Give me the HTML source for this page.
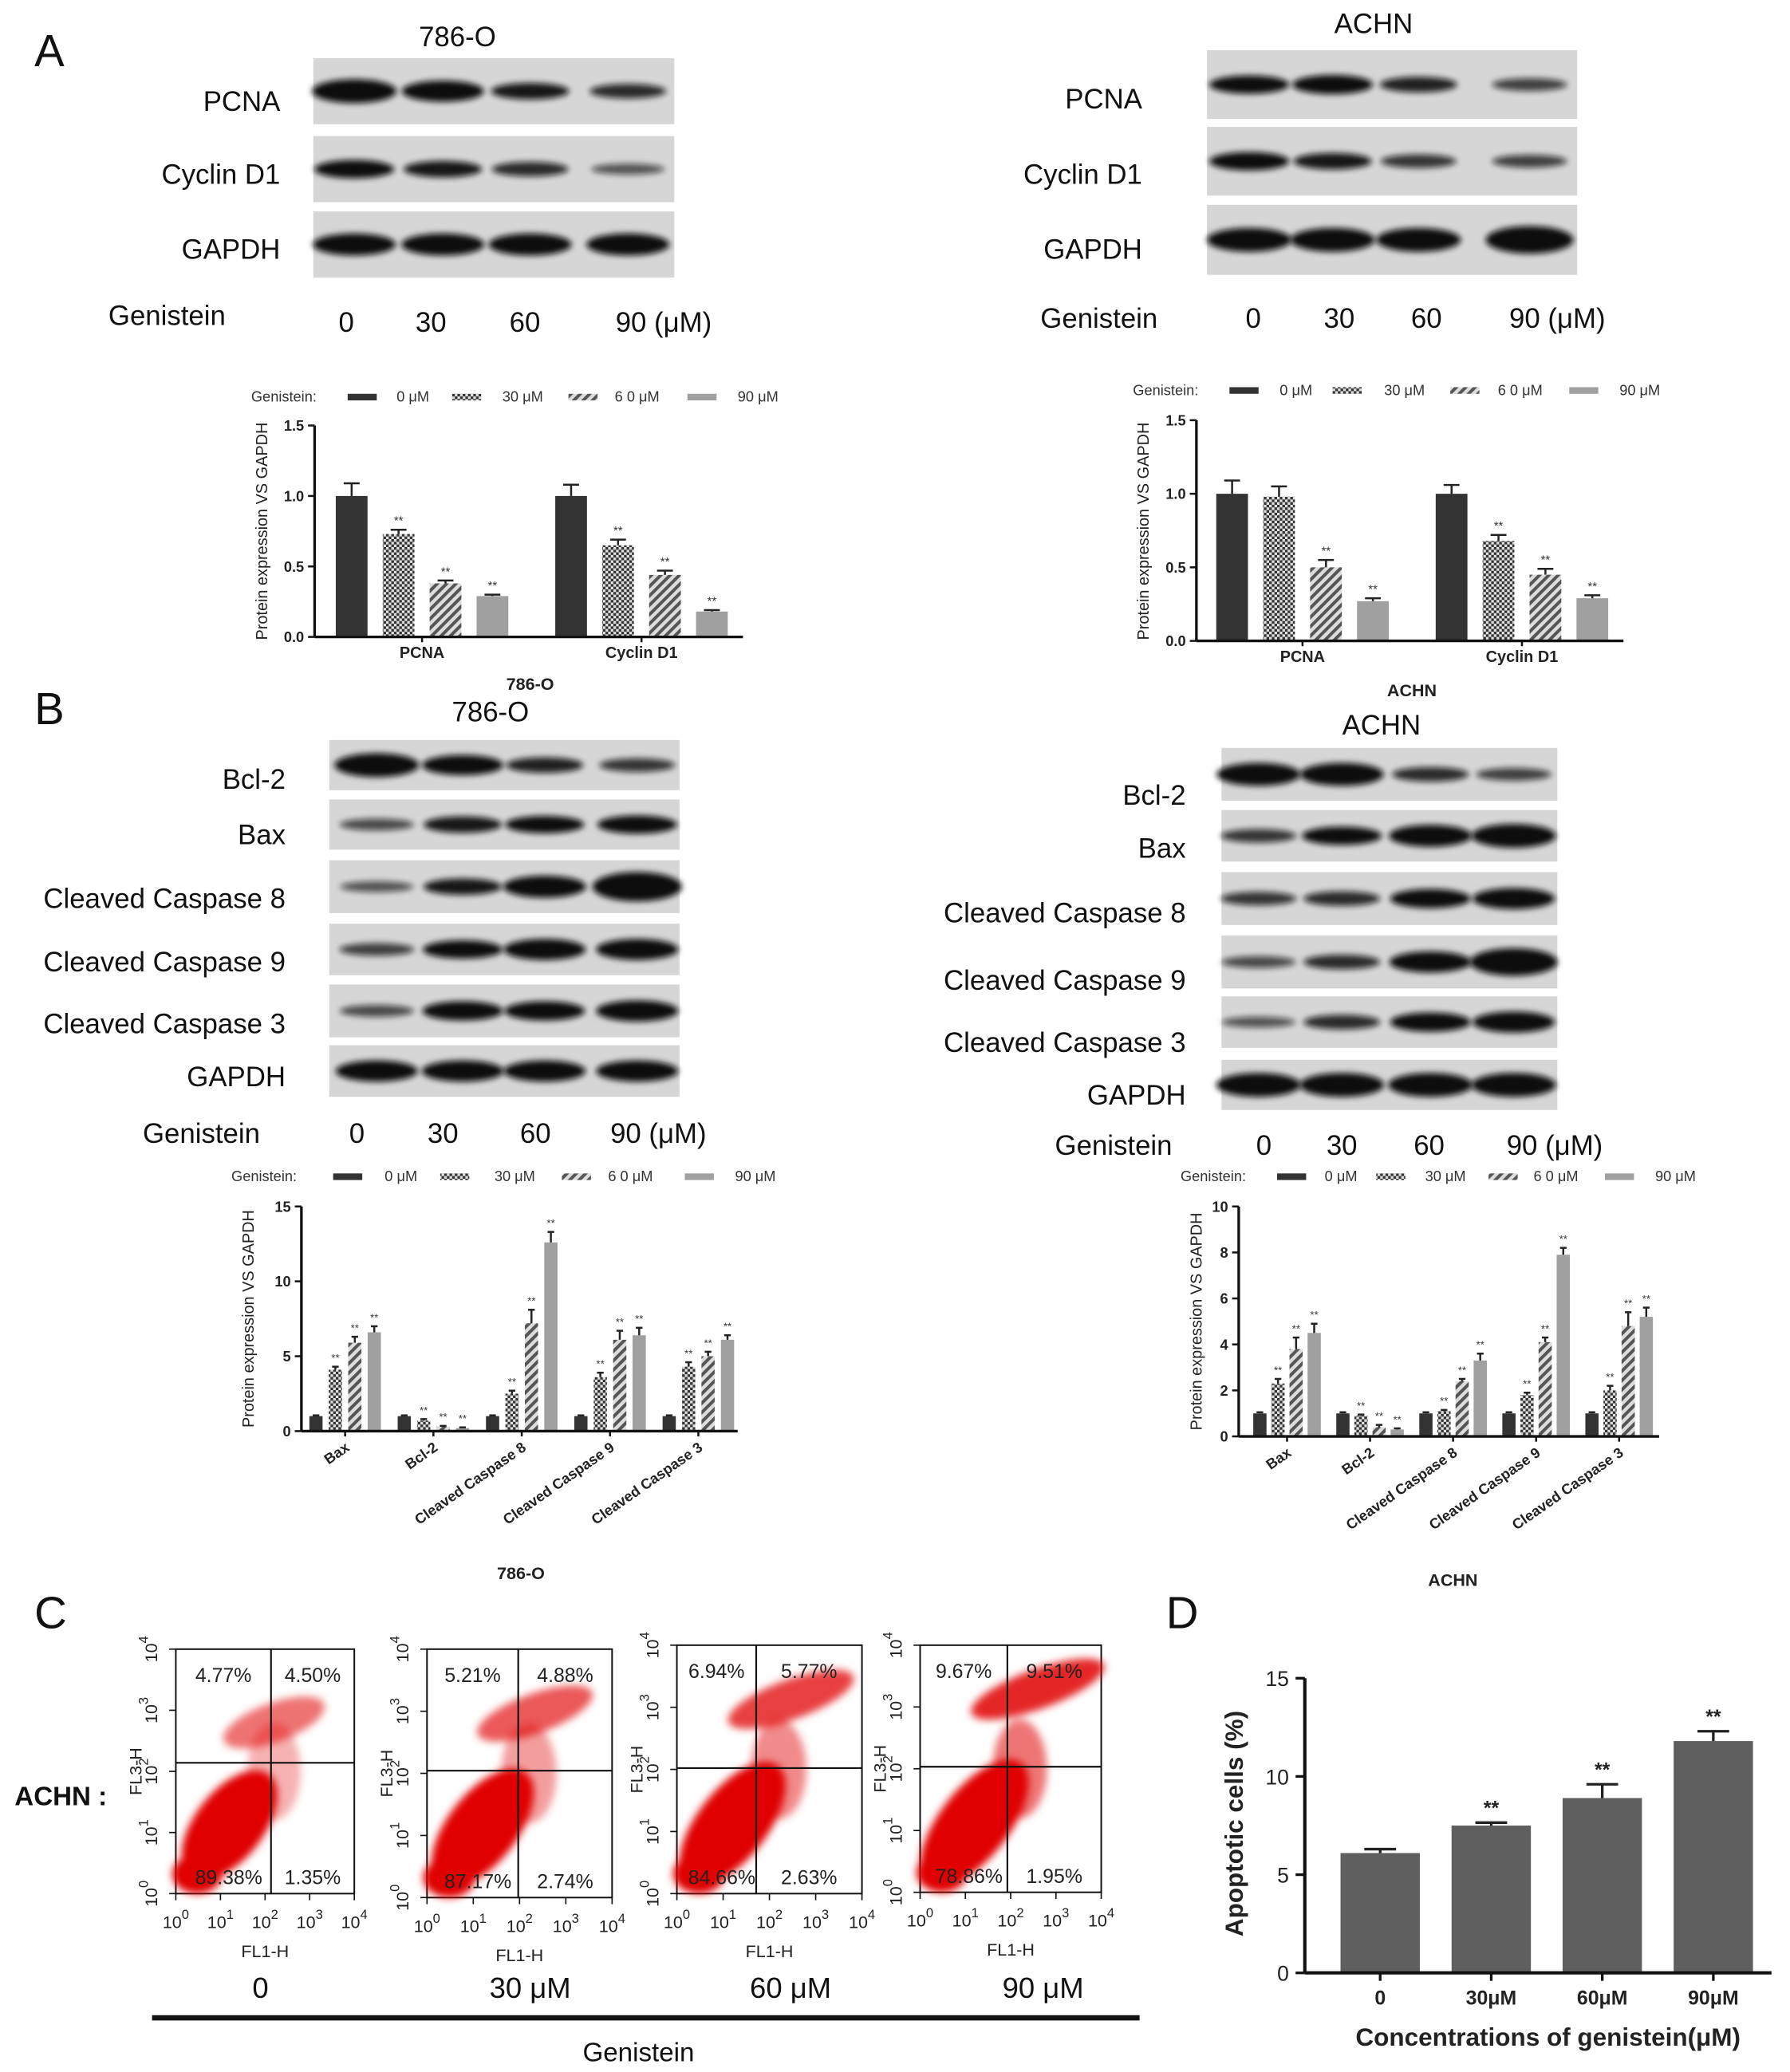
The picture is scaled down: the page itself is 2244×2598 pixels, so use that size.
<!DOCTYPE html>
<html><head><meta charset="utf-8"><style>
html,body{margin:0;padding:0;background:#fff}
svg{display:block}
text{font-family:"Liberation Sans",sans-serif}
</style></head><body>
<svg id="fig" xmlns="http://www.w3.org/2000/svg" width="2244" height="2598" viewBox="0 0 1354 1568" preserveAspectRatio="none">
<defs>
<filter id="blur" x="-30%" y="-80%" width="160%" height="260%"><feGaussianBlur stdDeviation="2.2"/></filter>
<filter id="blur2" x="-30%" y="-30%" width="160%" height="160%"><feGaussianBlur stdDeviation="3"/></filter>
<pattern id="p30" width="4" height="4" patternUnits="userSpaceOnUse"><rect width="4" height="4" fill="#e0e0e0"/><rect width="2" height="2" fill="#333"/><rect x="2" y="2" width="2" height="2" fill="#333"/></pattern>
<pattern id="p60" width="5" height="5" patternUnits="userSpaceOnUse" patternTransform="rotate(45)"><rect width="5" height="5" fill="#ddd"/><rect width="2.4" height="5" fill="#555"/></pattern>
</defs>
<g id="root"></g>
</svg>
<script>
// ---------- chart data ----------
const aCats = ["PCNA","Cyclin D1"];
const a786Vals = [[1.0,0.73,0.38,0.29],[1.0,0.65,0.44,0.18]];
const a786Err = [[0.09,0.03,0.02,0.01],[0.08,0.04,0.03,0.01]];
const aAchnVals = [[1.0,0.98,0.50,0.27],[1.0,0.68,0.45,0.29]];
const aAchnErr = [[0.09,0.07,0.05,0.02],[0.06,0.04,0.04,0.02]];
const aTicks = [0,0.5,1.0,1.5];
const bCats = ["Bax","Bcl-2","Cleaved Caspase 8","Cleaved Caspase 9","Cleaved Caspase 3"];
const b786Vals = [[1,4.1,5.9,6.6],[1,0.7,0.3,0.2],[1,2.5,7.2,12.6],[1,3.6,6.1,6.4],[1,4.3,5.0,6.1]];
const b786Err = [[0.05,0.2,0.4,0.4],[0.05,0.1,0.05,0.05],[0.05,0.2,0.9,0.7],[0.05,0.3,0.6,0.5],[0.05,0.3,0.3,0.3]];
const bAchnVals = [[1,2.3,3.8,4.5],[1,0.9,0.4,0.3],[1,1.1,2.4,3.3],[1,1.8,4.1,7.9],[1,2.0,4.8,5.2]];
const bAchnErr = [[0.05,0.2,0.5,0.4],[0.05,0.05,0.1,0.05],[0.05,0.05,0.1,0.3],[0.05,0.1,0.2,0.3],[0.05,0.2,0.6,0.4]];
const b786Ticks = [0,5,10,15];
const bAchnTicks = [0,2,4,6,8,10];
const dCats = ["0","30μM","60μM","90μM"];
const dVals = [6.1,7.5,8.9,11.8];
const dErr = [0.2,0.15,0.7,0.5];
const dTicks = [0,5,10,15];
const flowLabels = [["4.77%","4.50%","89.38%","1.35%"],["5.21%","4.88%","87.17%","2.74%"],["6.94%","5.77%","84.66%","2.63%"],["9.67%","9.51%","78.86%","1.95%"]];
const flowDoses = ["0","30 μM","60 μM","90 μM"];

const NS="http://www.w3.org/2000/svg";
const root=document.getElementById('root');
function el(tag,attrs,parent,txt){const e=document.createElementNS(NS,tag);for(const k in attrs)e.setAttribute(k,attrs[k]);if(txt!==undefined)e.textContent=txt;(parent||root).appendChild(e);return e;}
function T(x,y,s,size,opt){opt=opt||{};const t=el('text',{x:x,y:y,'font-size':size,fill:opt.fill||'#111','text-anchor':opt.anchor||'start','font-weight':opt.bold?'bold':'normal'},opt.parent,s);if(opt.rot)t.setAttribute('transform','rotate('+opt.rot+' '+x+' '+y+')');return t;}

[["A",26,50],["B",26,548],["C",26,1232],["D",882,1232]].forEach(p=>{const t=T(p[1],p[2],p[0],34);

});

function blot(name,title,tx,ty,x0,x1,rows,lanes,labelX,gen,doses){
  const g=el('g',{});
  
  
  T(tx,ty,title,21,{anchor:'middle',parent:g});
  rows.forEach(r=>{
    el('rect',{x:x0,y:r.y0,width:x1-x0,height:r.y1-r.y0,fill:'#d6d6d6'},g);
    const cy=(r.y0+r.y1)/2;
    r.s.forEach((s,i)=>{
      el('ellipse',{cx:lanes[i],cy:cy,rx:26+s*6,ry:2+s*7,fill:'#111',opacity:Math.min(1,0.35+s),filter:'url(#blur)'},g);
    });
    T(labelX,r.ly,r.label,21,{anchor:'end',parent:g});
  });
  T(gen[0],gen[1],'Genistein',21,{parent:g});
  doses.forEach(d=>T(d[0],d[1],d[2],21,{anchor:'middle',parent:g}));
}
blot('blot-a-786o','786-O',346,35,237,510,[
 {y0:44,y1:94,ly:84,label:'PCNA',s:[1,0.85,0.6,0.5]},
 {y0:103,y1:153,ly:139,label:'Cyclin D1',s:[0.7,0.6,0.5,0.3]},
 {y0:160,y1:210,ly:196,label:'GAPDH',s:[0.9,0.9,0.9,0.9]}],
 [268,335,401,475],212,[82,246],[[262,251,'0'],[326,251,'30'],[397,251,'60'],[502,251,'90 (μM)']]);
blot('blot-a-achn','ACHN',1039,25,913,1193,[
 {y0:38,y1:90,ly:82,label:'PCNA',s:[0.7,0.75,0.55,0.4]},
 {y0:96,y1:148,ly:139,label:'Cyclin D1',s:[0.7,0.6,0.45,0.4]},
 {y0:155,y1:208,ly:196,label:'GAPDH',s:[1,1,1,1.2]}],
 [945,1008,1073,1157],864,[787,248],[[948,248,'0'],[1013,248,'30'],[1079,248,'60'],[1178,248,'90 (μM)']]);
blot('blot-b-786o','786-O',371,546,249,514,[
 {y0:560,y1:598,ly:597,label:'Bcl-2',s:[1,0.8,0.55,0.45]},
 {y0:605,y1:643,ly:639,label:'Bax',s:[0.35,0.6,0.65,0.7]},
 {y0:651,y1:691,ly:687,label:'Cleaved Caspase 8',s:[0.3,0.6,0.9,1.3]},
 {y0:699,y1:738,ly:735,label:'Cleaved Caspase 9',s:[0.4,0.7,0.85,0.85]},
 {y0:745,y1:785,ly:782,label:'Cleaved Caspase 3',s:[0.35,0.75,0.75,0.85]},
 {y0:791,y1:830,ly:822,label:'GAPDH',s:[0.85,0.85,0.85,0.85]}],
 [285,350,412,482],216,[108,865],[[270,865,'0'],[335,865,'30'],[405,865,'60'],[498,865,'90 (μM)']]);
blot('blot-b-achn','ACHN',1045,556,924,1178,[
 {y0:566,y1:606,ly:609,label:'Bcl-2',s:[0.95,0.95,0.5,0.4]},
 {y0:613,y1:652,ly:649,label:'Bax',s:[0.45,0.7,0.9,1]},
 {y0:660,y1:700,ly:698,label:'Cleaved Caspase 8',s:[0.45,0.5,0.75,0.85]},
 {y0:708,y1:748,ly:749,label:'Cleaved Caspase 9',s:[0.35,0.5,0.85,1.2]},
 {y0:754,y1:793,ly:796,label:'Cleaved Caspase 3',s:[0.3,0.5,0.75,0.85]},
 {y0:802,y1:840,ly:836,label:'GAPDH',s:[1,1,1,1]}],
 [952,1015,1082,1145],897,[798,874],[[956,874,'0'],[1015,874,'30'],[1081,874,'60'],[1176,874,'90 (μM)']]);

const fills=['#333','url(#p30)','url(#p60)','#a0a0a0'];
function legend(name,y,gx,sw,tx){
  const g=el('g',{});
  
  
  T(gx,y+4,'Genistein:',11,{parent:g,fill:'#333'});
  const labs=['0 μM','30 μM','6 0 μM','90 μM'];
  sw.forEach((x,i)=>{el('rect',{x:x,y:y-2,width:22,height:5,fill:fills[i]},g);T(tx[i],y+4,labs[i],11,{parent:g,fill:'#333'});});
}
function barChart(o){
  const g=el('g',{});
  
  
  const ys=v=>o.y0-(v/o.ymax)*(o.y0-o.ytop);
  o.vals.forEach((grp,gi)=>{
    grp.forEach((v,si)=>{
      const cx=o.first+gi*o.gstep+si*o.bstep;
      const y=ys(v),w=o.bw;
      const r=el('rect',{x:cx-w/2,y:y,width:w,height:o.y0-y,fill:fills[si]},g);
      
      
      const ye=ys(v+o.err[gi][si]);
      el('line',{x1:cx,x2:cx,y1:y,y2:ye,stroke:'#222','stroke-width':1.5},g);
      el('line',{x1:cx-w*0.25,x2:cx+w*0.25,y1:ye,y2:ye,stroke:'#222','stroke-width':1.5},g);
      if(si>0 && !(o.noStar&&o.noStar(gi,si)))T(cx,ye-4,'**',o.starSize||9,{anchor:'middle',parent:g,fill:'#333'});
    });
    const gc=o.first+gi*o.gstep+1.5*o.bstep;
    el('line',{x1:gc,x2:gc,y1:o.y0,y2:o.y0+4,stroke:'#111','stroke-width':1.5},g);
    if(o.rotLabels)T(gc+4,o.y0+14,o.cats[gi],11,{anchor:'end',parent:g,bold:true,rot:-35,fill:'#222'});
    else T(gc,o.y0+16,o.cats[gi],o.labSize||12,{anchor:'middle',parent:g,bold:true,fill:'#222'});
  });
  el('line',{x1:o.ax,x2:o.ax,y1:o.ytop,y2:o.y0,stroke:'#111','stroke-width':o.aw||2},g);
  el('line',{x1:o.ax,x2:o.xend,y1:o.y0,y2:o.y0,stroke:'#111','stroke-width':o.aw||2},g);
  o.ticks.forEach(t=>{const y=ys(t);el('line',{x1:o.ax-5,x2:o.ax,y1:y,y2:y,stroke:'#111','stroke-width':1.5},g);
    T(o.ax-8,y+4,o.tickFmt?o.tickFmt(t):String(t),o.tickSize||11,{anchor:'end',parent:g,bold:true,fill:'#222'});});
  T(o.ytx,o.yty,o.ytitle,o.ytSize||12,{anchor:'middle',parent:g,rot:-90,fill:'#222',bold:o.ytBold});
  if(o.title)T(o.title[0],o.title[1],o.title[2],o.title[3]||13,{anchor:'middle',parent:g,bold:true,fill:'#222'});
}
const f1=t=>t.toFixed(1);
legend('legend-a-786o',300,190,[263,342,430,520],[300,380,465,558]);
barChart({name:'chart-a-786o',cats:aCats,vals:a786Vals,err:a786Err,ticks:aTicks,ymax:1.5,y0:482,ytop:322,ax:238,xend:562,first:266,bstep:35.5,gstep:166,bw:24,tickFmt:f1,ytx:202,yty:402,ytitle:'Protein expression VS GAPDH',title:[401,522,'786-O']});
legend('legend-a-achn',295,857,[930,1008,1097,1187],[968,1047,1133,1225]);
barChart({name:'chart-a-achn',cats:aCats,vals:aAchnVals,err:aAchnErr,ticks:aTicks,ymax:1.5,y0:485,ytop:318,ax:905,xend:1228,first:932,bstep:35.5,gstep:166,bw:24,tickFmt:f1,ytx:869,yty:402,ytitle:'Protein expression VS GAPDH',title:[1068,527,'ACHN'],noStar:(g,s)=>g==0&&s==1});
legend('legend-b-786o',890,175,[252,333,425,518],[291,374,460,556]);
barChart({name:'chart-b-786o',cats:bCats,vals:b786Vals,err:b786Err,ticks:b786Ticks,ymax:15,y0:1083,ytop:913,ax:228,xend:558,first:239,bstep:14.7,gstep:66.8,bw:10,rotLabels:true,starSize:8,ytx:192,yty:998,ytitle:'Protein expression VS GAPDH',title:[394,1195,'786-O']});
legend('legend-b-achn',890,893,[966,1041,1126,1214],[1002,1078,1160,1252]);
barChart({name:'chart-b-achn',cats:bCats,vals:bAchnVals,err:bAchnErr,ticks:bAchnTicks,ymax:10,y0:1087,ytop:913,ax:937,xend:1255,first:953,bstep:13.7,gstep:62.8,bw:10,rotLabels:true,starSize:8,ytx:909,yty:1000,ytitle:'Protein expression VS GAPDH',title:[1099,1200,'ACHN']});

(function(){
  const g=el('g',{});
  
  
  const y0=1493,ytop=1270,ax=987,ymax=15;
  const ys=v=>y0-v/ymax*(y0-ytop);
  dVals.forEach((v,i)=>{
    const cx=1044+i*84,y=ys(v);
    const r=el('rect',{x:cx-30,y:y,width:60,height:y0-y,fill:'#5f5f5f'},g);
    
    
    const ye=ys(v+dErr[i]);
    el('line',{x1:cx,x2:cx,y1:y,y2:ye,stroke:'#222','stroke-width':2},g);
    el('line',{x1:cx-12,x2:cx+12,y1:ye,y2:ye,stroke:'#222','stroke-width':2},g);
    if(i>0)T(cx,ye-6,'**',15,{anchor:'middle',parent:g,bold:true,fill:'#222'});
    el('line',{x1:cx,x2:cx,y1:y0,y2:y0+6,stroke:'#111','stroke-width':2},g);
    T(cx,y0+24,dCats[i],15,{anchor:'middle',parent:g,bold:true,fill:'#222'});
  });
  el('line',{x1:ax,x2:ax,y1:ytop,y2:y0,stroke:'#111','stroke-width':2.5},g);
  el('line',{x1:ax,x2:1340,y1:y0,y2:y0,stroke:'#111','stroke-width':2.5},g);
  dTicks.forEach(t=>{const y=ys(t);el('line',{x1:ax-7,x2:ax,y1:y,y2:y,stroke:'#111','stroke-width':2},g);T(ax-12,y+6,String(t),16,{anchor:'end',parent:g,fill:'#222'});});
  T(940,1380,'Apoptotic cells (%)',19,{anchor:'middle',parent:g,bold:true,rot:-90,fill:'#222'});
  T(1171,1548,'Concentrations of genistein(μM)',19,{anchor:'middle',parent:g,bold:true,fill:'#222'});
})();

const flowBoxes=[[133,1248,268,1433,205,1334],[323,1248,463,1436,392,1340],[512,1245,652,1433,572,1338],[696,1245,833,1432,762,1337]];
const doseX=[197,401,598,789];
flowBoxes.forEach((b,i)=>{
  const [x0,y0,x1,y1,vx,hy]=b;const w=x1-x0,h=y1-y0;
  const g=el('g',{});
  
  
  el('rect',{x:x0,y:y0,width:w,height:h,fill:'#fff',stroke:'#111','stroke-width':1.2},g);
  const cg=el('g',{filter:'url(#blur2)'},g);
  const spread=0.02*i;
  el('ellipse',{cx:x0+w*0.3,cy:y0+h*0.72,rx:w*(0.36+spread),ry:h*0.14,fill:'#e00000',transform:'rotate(-52 '+(x0+w*0.3)+' '+(y0+h*0.72)+')'},cg);
  el('ellipse',{cx:x0+w*0.12,cy:y0+h*0.92,rx:w*0.14,ry:h*0.08,fill:'#e00000'},cg);
  el('ellipse',{cx:x0+w*(0.55+0.05*i),cy:y0+h*(0.3-0.03*i),rx:w*(0.3+0.03*i),ry:h*0.08,fill:'#e00000',opacity:0.55+0.1*i,transform:'rotate(-20 '+(x0+w*0.55)+' '+(y0+h*0.3)+')'},cg);
  el('ellipse',{cx:x0+w*0.55,cy:y0+h*0.5,rx:w*0.15,ry:h*0.2,fill:'#e00000',opacity:0.3+0.08*i},cg);
  el('line',{x1:vx,x2:vx,y1:y0,y2:y1,stroke:'#111','stroke-width':1.3},g);
  el('line',{x1:x0,x2:x1,y1:hy,y2:hy,stroke:'#111','stroke-width':1.3},g);
  const L=flowLabels[i];
  T((x0+vx)/2,y0+25,L[0],15,{anchor:'middle',parent:g,fill:'#222'});
  T((vx+x1)/2,y0+25,L[1],15,{anchor:'middle',parent:g,fill:'#222'});
  T((x0+vx)/2+4,y1-7,L[2],15,{anchor:'middle',parent:g,fill:'#222'});
  T((vx+x1)/2,y1-7,L[3],15,{anchor:'middle',parent:g,fill:'#222'});
  for(let k=0;k<5;k++){
    const tx=x0+k*w/4;
    const t1=T(tx,y1+26,'10',13,{anchor:'middle',parent:g,fill:'#222'});
    el('tspan',{dy:-7,'font-size':10},t1,String(k));
    const ty=y1-k*h/4;
    const t2=T(x0-14,ty,'10',13,{anchor:'middle',parent:g,fill:'#222',rot:-90});
    el('tspan',{dy:-7,'font-size':10},t2,String(k));
    el('line',{x1:tx,x2:tx,y1:y1,y2:y1+5,stroke:'#111'},g);
    el('line',{x1:x0-5,x2:x0,y1:ty,y2:ty,stroke:'#111'},g);
  }
  T((x0+x1)/2,y1+48,'FL1-H',13,{anchor:'middle',parent:g,fill:'#222'});
  T(x0-26,(y0+y1)/2,'FL3-H',13,{anchor:'middle',parent:g,fill:'#222',rot:-90});
  T(doseX[i],1512,flowDoses[i],22,{anchor:'middle',parent:g,fill:'#111'});
});
const ac=T(46,1366,'ACHN :',20,{anchor:'middle',bold:true});


const bar=el('rect',{x:115,y:1525,width:747,height:4,fill:'#111'});


const gl=T(483,1560,'Genistein',20,{anchor:'middle'});


</script>
</body></html>
